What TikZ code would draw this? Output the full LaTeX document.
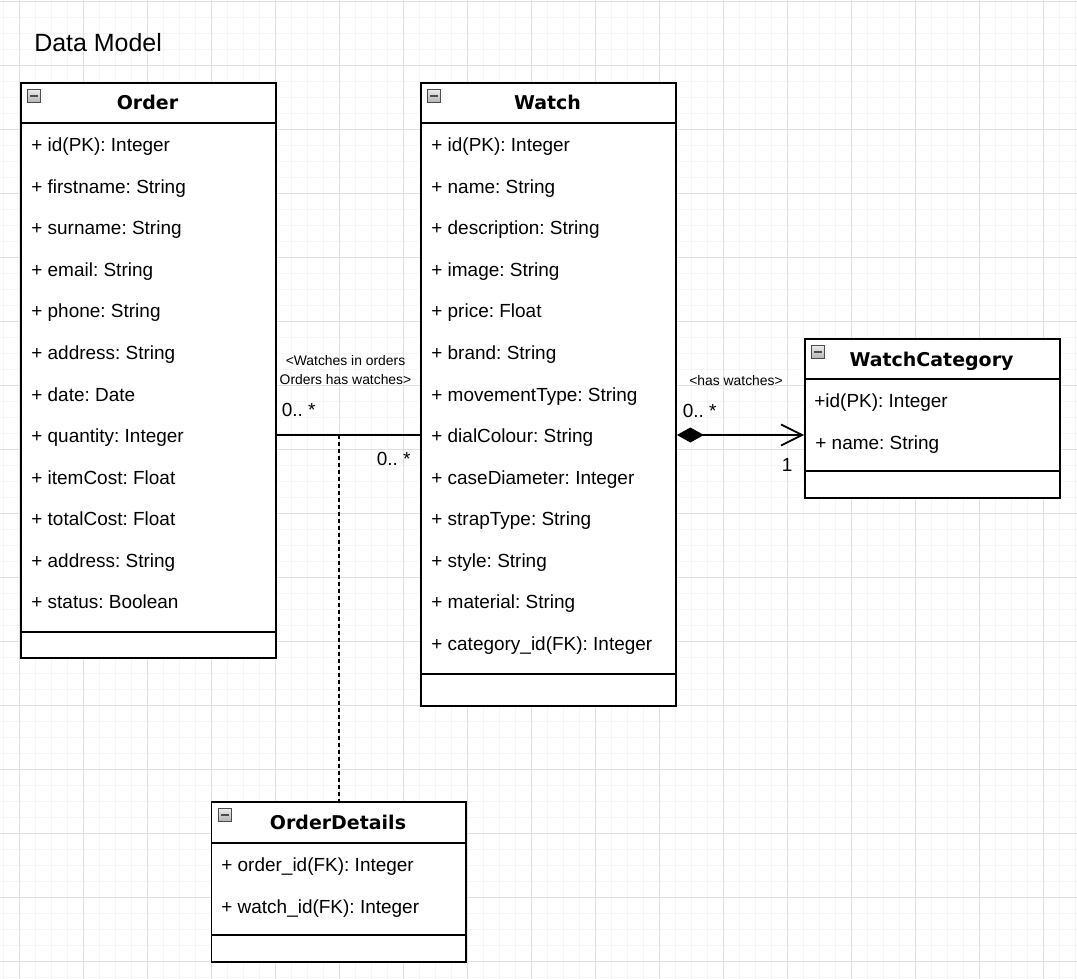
\documentclass[tikz,border=0pt]{standalone}
\usepackage{fontspec}
\usepackage{tikz}
\usetikzlibrary{arrows.meta}
\setmainfont{Liberation Sans}
\newfontfamily\headfont{DejaVu Sans}
\definecolor{gridmajor}{HTML}{E0E0E0}
\definecolor{gridminor}{HTML}{F6F6F6}
\frenchspacing

\begin{document}
\begin{tikzpicture}[x=0.02cm, y=-0.02cm,
    classbox/.style={draw, line width=1.1pt, fill=white, anchor=north west, inner sep=0pt, minimum width=5.1cm},
    classtitle/.style={anchor=base, inner sep=0pt, font=\headfont\bfseries\fontsize{10.8}{13}\selectfont},
    attr/.style={anchor=base west, inner sep=0pt, font=\fontsize{10.8}{13}\selectfont},
    mult/.style={anchor=base west, inner sep=0pt, font=\fontsize{10.8}{13}\selectfont},
    role/.style={anchor=base, inner sep=0pt, align=center, font=\fontsize{7.9}{10.8}\selectfont},
    toggle/.style={draw=gray!60!black, line width=0.5pt, top color=gray!15, bottom color=gray!60, minimum size=0.26cm, inner sep=0pt,
        path picture={\draw[line width=1.5pt] ([xshift=0.05cm]path picture bounding box.west) -- ([xshift=-0.05cm]path picture bounding box.east);}},
    rule/.style={line width=1.1pt}]
    \useasboundingbox (0,0) rectangle (1077,979);
    \fill[white] (0,0) rectangle (1077,979);
    % background grid
    \foreach \gx in {3.5,19.5,...,1077} \draw[gridminor, line width=0.5pt] (\gx,0) -- (\gx,979);
    \foreach \gy in {1.3,17.3,...,979} \draw[gridminor, line width=0.5pt] (0,\gy) -- (1077,\gy);
    \foreach \gx in {19.5,83.5,...,1077} \draw[gridmajor, line width=0.5pt] (\gx,0) -- (\gx,979);
    \foreach \gy in {1.3,65.3,...,979} \draw[gridmajor, line width=0.5pt] (0,\gy) -- (1077,\gy);
    % title
    \node[anchor=base west, inner sep=0pt, font=\fontsize{14.2}{17}\selectfont] (heading) at (34,52) {Data Model};
    % order class
    \node[classbox, minimum height=11.5cm] (order) at (20,82) {};
    \node[toggle] (order-tgl) at ([shift={(14,14)}]order.north west) {};
    \node[classtitle] (order-title) at (147.5,110) {Order};
    \draw[rule] (20,123) -- (275,123);
    \draw[rule] (20,632) -- (275,632);
    \foreach \attr [count=\i from 0] in {+ id(PK): Integer, + firstname: String, + surname: String, + email: String,
        + phone: String, + address: String, + date: Date, + quantity: Integer, + itemCost: Float,
        + totalCost: Float, + address: String, + status: Boolean}
        \node[attr, name=order-\i] at (31,151.7+41.55*\i) {\attr};
    % watch class
    \node[classbox, minimum height=12.46cm] (watch) at (420,82) {};
    \node[toggle] (watch-tgl) at ([shift={(14,14)}]watch.north west) {};
    \node[classtitle] (watch-title) at (547.5,110) {Watch};
    \draw[rule] (420,123) -- (675,123);
    \draw[rule] (420,674) -- (675,674);
    \foreach \attr [count=\i from 0] in {+ id(PK): Integer, + name: String, + description: String, + image: String,
        + price: Float, + brand: String, + movementType: String, + dialColour: String, + caseDiameter: Integer,
        + strapType: String, + style: String, + material: String, + category\_id(FK): Integer}
        \node[attr, name=watch-\i] at (431,151.7+41.55*\i) {\attr};
    % watch category class
    \node[classbox, minimum height=3.18cm] (cat) at (804,338) {};
    \node[toggle] (cat-tgl) at ([shift={(14,14)}]cat.north west) {};
    \node[classtitle] (cat-title) at (931.5,366) {WatchCategory};
    \draw[rule] (804,379) -- (1059,379);
    \draw[rule] (804,471) -- (1059,471);
    \node[attr] (cat-0) at (814,407.7) {+id(PK): Integer};
    \node[attr] (cat-1) at (815,449.3) {+ name: String};
    % order details class
    \node[classbox, minimum height=3.2cm] (details) at (210.5,801) {};
    \node[toggle] (details-tgl) at ([shift={(14,14)}]details.north west) {};
    \node[classtitle] (details-title) at (338,829) {OrderDetails};
    \draw[rule] (210.5,843) -- (465.5,843);
    \draw[rule] (210.5,935) -- (465.5,935);
    \node[attr] (details-0) at (221,871.7) {+ order\_id(FK): Integer};
    \node[attr] (details-1) at (221,913.3) {+ watch\_id(FK): Integer};
    % order - watch association
    \coordinate (assoc) at (339,435);
    \draw[line width=1pt] (order.east |- assoc) -- (watch.west |- assoc);
    \draw[line width=1pt, dash pattern=on 0.08cm off 0.06cm] (assoc) -- (details.north -| assoc);
    \node[role] (assoc-role) at (345.5,384.5) {<Watches in orders\\Orders has watches>};
    \node[mult] (order-mult) at (281.5,416.7) {0.. *};
    \node[mult] (watch-mult) at (376.5,465) {0.. *};
    % watch - category composition
    \draw[line width=1pt, {Diamond[length=0.54cm, width=0.3cm]}-{Straight Barb[length=0.42cm, width=0.42cm]}]
        (watch.east |- assoc) -- (cat.west |- assoc);
    \node[role] (cat-role) at (736,385) {<has watches>};
    \node[mult] (cat-many) at (682.5,417.3) {0.. *};
    \node[mult] (cat-one) at (781.5,471.7) {1};
\end{tikzpicture}
\end{document}
